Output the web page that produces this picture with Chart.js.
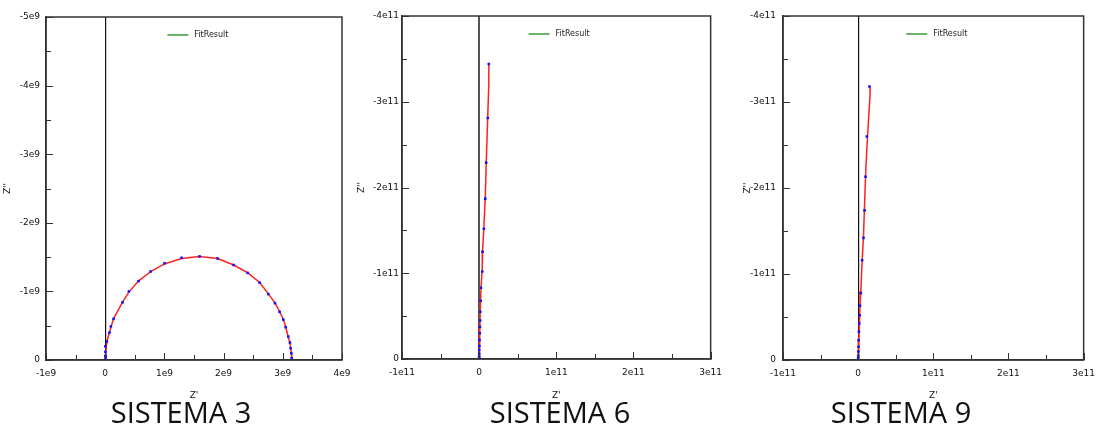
<!DOCTYPE html>
<html lang="es">
<head>
    <meta charset="UTF-8">
    <title>Nyquist - Sistemas 3, 6, 9</title>
    <style>
        body {
            margin: 0;
            background: #fff;
        }
        #wrap {
            position: relative;
            width: 1103px;
            height: 427px;
            overflow: hidden;
        }
        canvas {
            position: absolute;
            top: 0;
        }
        .caption {
            position: absolute;
            top: 397px;
            width: 200px;
            text-align: center;
            font-family: "Open Sans", sans-serif;
            font-size: 29px;
            line-height: 29px;
            color: #111;
        }
    </style>
    <script src="https://cdn.jsdelivr.net/npm/chart.js"></script>
</head>
<body>

<div id="wrap">
    <canvas id="c3" width="360" height="427" style="left:0px"></canvas>
    <canvas id="c6" width="375" height="427" style="left:355px"></canvas>
    <canvas id="c9" width="373" height="427" style="left:730px"></canvas>
    <div class="caption" style="left:81px">SISTEMA 3</div>
    <div class="caption" style="left:460px">SISTEMA 6</div>
    <div class="caption" style="left:801px">SISTEMA 9</div>
</div>

<script>
    // ---- data (Z' , Z'') ----
    // Sistema 3
    const s3DataX = [0, 0.001e9, 0.003e9, 0.002e9, 0.006e9, 0.028e9, 0.073e9, 0.096e9, 0.141e9, 0.293e9, 0.40e9, 0.563e9, 0.766e9, 1.003e9, 1.29e9, 1.594e9, 1.899e9, 2.169e9, 2.406e9, 2.608e9, 2.755e9, 2.868e9, 2.946e9, 3.008e9, 3.048e9, 3.093e9, 3.121e9, 3.132e9, 3.144e9, 3.149e9];
    const s3DataY = [-0.01e9, -0.06e9, -0.12e9, -0.2e9, -0.05e9, -0.27e9, -0.40e9, -0.49e9, -0.60e9, -0.84e9, -1.0e9, -1.15e9, -1.29e9, -1.41e9, -1.49e9, -1.51e9, -1.48e9, -1.385e9, -1.27e9, -1.127e9, -0.961e9, -0.829e9, -0.702e9, -0.59e9, -0.478e9, -0.341e9, -0.254e9, -0.171e9, -0.098e9, -0.024e9];
    const s3FitX = [0, 0.01e9, 0.03e9, 0.07e9, 0.14e9, 0.29e9, 0.40e9, 0.56e9, 0.77e9, 1.00e9, 1.29e9, 1.59e9, 1.90e9, 2.17e9, 2.41e9, 2.61e9, 2.76e9, 2.87e9, 2.95e9, 3.01e9, 3.05e9, 3.09e9, 3.12e9, 3.135e9, 3.145e9, 3.15e9, 3.152e9];
    const s3FitY = [0, -0.12e9, -0.27e9, -0.40e9, -0.60e9, -0.84e9, -0.99e9, -1.15e9, -1.29e9, -1.40e9, -1.48e9, -1.51e9, -1.48e9, -1.385e9, -1.27e9, -1.13e9, -0.96e9, -0.83e9, -0.70e9, -0.59e9, -0.48e9, -0.34e9, -0.25e9, -0.17e9, -0.10e9, -0.02e9, 0];

    // Sistema 6
    const s6DataX = [1.25e10, 1.12e10, 0.91e10, 0.79e10, 0.61e10, 0.44e10, 0.41e10, 0.23e10, 0.19e10, 0.15e10, 0.13e10, 0.10e10, 0.08e10, 0.05e10, 0.03e10, 0.01e10, 0.005e10, 0, 0];
    const s6DataY = [-3.44e11, -2.81e11, -2.29e11, -1.87e11, -1.52e11, -1.25e11, -1.02e11, -0.83e11, -0.68e11, -0.55e11, -0.45e11, -0.375e11, -0.30e11, -0.22e11, -0.15e11, -0.105e11, -0.06e11, -0.027e11, -0.01e11];
    const s6FitX = [1.25e10, 1.25e10, 1.12e10, 0.93e10, 0.80e10, 0.62e10, 0.45e10, 0.40e10, 0.25e10, 0.18e10, 0.14e10, 0.10e10, 0.06e10, 0.03e10, 0];
    const s6FitY = [-3.44e11, -3.20e11, -2.85e11, -2.33e11, -1.90e11, -1.55e11, -1.27e11, -1.05e11, -0.85e11, -0.68e11, -0.55e11, -0.40e11, -0.25e11, -0.12e11, 0];

    // Sistema 9
    const s9DataX = [1.5e10, 1.15e10, 0.98e10, 0.85e10, 0.71e10, 0.53e10, 0.36e10, 0.25e10, 0.20e10, 0.15e10, 0.10e10, 0.07e10, 0.05e10, 0.02e10, 0.01e10, 0, 0];
    const s9DataY = [-3.18e11, -2.60e11, -2.13e11, -1.74e11, -1.42e11, -1.16e11, -0.78e11, -0.63e11, -0.52e11, -0.425e11, -0.33e11, -0.23e11, -0.155e11, -0.10e11, -0.05e11, -0.02e11, 0];
    const s9FitX = [1.6e10, 1.58e10, 1.35e10, 1.15e10, 0.98e10, 0.85e10, 0.70e10, 0.53e10, 0.36e10, 0.25e10, 0.18e10, 0.10e10, 0.04e10, 0];
    const s9FitY = [-3.18e11, -3.08e11, -2.75e11, -2.45e11, -2.13e11, -1.80e11, -1.42e11, -1.16e11, -0.80e11, -0.63e11, -0.45e11, -0.25e11, -0.10e11, 0];

    // tick labels (major ticks only, minor ticks halfway between), from axis min upwards
    const x3Labels = ['-1e9', '0', '1e9', '2e9', '3e9', '4e9'];
    const y3Labels = ['-5e9', '-4e9', '-3e9', '-2e9', '-1e9', '0'];
    const x69Labels = ['-1e11', '0', '1e11', '2e11', '3e11'];
    const y69Labels = ['-4e11', '-3e11', '-2e11', '-1e11', '0'];

    const legendLabel = 'FitResult';
    const FONT = 'DejaVu Sans';

    function pts(xs, ys) {
        return xs.map((x, i) => ({x: x, y: ys[i]}));
    }

    // position of a tick counted in major steps from the axis min
    function majorIndex(v, min, step) {
        const k = (v - min) / (2 * step);
        return Math.abs(k - Math.round(k)) < 1e-6 ? Math.round(k) : -1;
    }

    // frame, inward tick marks and the in-plot legend
    const decor = {
        id: 'decor',
        afterDraw(chart, args, opts) {
            const ctx = chart.ctx;
            const a = chart.chartArea;
            ctx.save();
            ctx.strokeStyle = '#333';
            ctx.lineWidth = 1;
            ['x', 'y'].forEach(k => {
                const s = chart.scales[k];
                const step = s.options.ticks.stepSize;
                s.ticks.forEach(t => {
                    const len = majorIndex(t.value, s.min, step) >= 0 ? 7 : 5;
                    const p = Math.round(s.getPixelForValue(t.value)) + 0.5;
                    ctx.beginPath();
                    if (k === 'x') {
                        ctx.moveTo(p, a.bottom);
                        ctx.lineTo(p, a.bottom - len);
                    } else {
                        ctx.moveTo(a.left, p);
                        ctx.lineTo(a.left + len, p);
                    }
                    ctx.stroke();
                });
            });
            ctx.lineWidth = 1.5;
            ctx.strokeRect(a.left, a.top, a.right - a.left, a.bottom - a.top);

            // legend
            const lx = a.left + 0.41 * (a.right - a.left);
            const ly = a.top + 18;
            ctx.strokeStyle = '#1a8a1a';
            ctx.lineWidth = 1.3;
            ctx.beginPath();
            ctx.moveTo(lx, ly);
            ctx.lineTo(lx + 21, ly);
            ctx.stroke();
            ctx.fillStyle = '#222';
            ctx.font = '8px "' + FONT + '"';
            ctx.textBaseline = 'middle';
            ctx.fillText(legendLabel, lx + 27, ly);
            ctx.restore();
        }
    };

    function makeChart(id, p) {
        const ctx = document.getElementById(id).getContext('2d');
        return new Chart(ctx, {
            type: 'scatter',
            data: {
                datasets: [{
                    label: 'Data',
                    data: pts(p.dataX, p.dataY),
                    pointStyle: 'rect',
                    pointRadius: 1.8,
                    pointBorderWidth: 0,
                    backgroundColor: '#1010ff',
                    borderColor: '#1010ff',
                    showLine: false
                }, {
                    label: legendLabel,
                    data: pts(p.fitX, p.fitY),
                    showLine: true,
                    borderColor: '#ff2020',
                    borderWidth: 1.5,
                    pointRadius: 0,
                    tension: 0
                }]
            },
            options: {
                responsive: false,
                animation: false,
                layout: { padding: { top: p.padTop, right: p.padRight, left: 0, bottom: 0 } },
                plugins: {
                    legend: { display: false },
                    tooltip: { enabled: false }
                },
                scales: {
                    x: {
                        type: 'linear',
                        min: p.xMin, max: p.xMax,
                        afterFit: s => { s.height = p.xHeight; },
                        ticks: {
                            stepSize: p.xStep,
                            padding: 8,
                            maxRotation: 0,
                            autoSkip: false,
                            color: '#111',
                            font: { family: FONT, size: 9 },
                            callback: v => {
                                const k = majorIndex(v, p.xMin, p.xStep);
                                return k >= 0 ? p.xLabels[k] : '';
                            }
                        },
                        grid: {
                            drawTicks: false,
                            color: c => (c.tick && c.tick.value === 0 ? p.zeroColor : 'transparent'),
                            lineWidth: p.zeroWidth
                        },
                        border: { color: '#333', width: 1.5 },
                        title: {
                            display: true,
                            text: "Z'",
                            color: '#111',
                            font: { family: FONT, size: 9 },
                            padding: { top: 0, bottom: 26 }
                        }
                    },
                    y: {
                        type: 'linear',
                        reverse: true,
                        min: p.yMin, max: 0,
                        afterFit: s => { s.width = p.yWidth; },
                        ticks: {
                            stepSize: p.yStep,
                            padding: p.yPad,
                            autoSkip: false,
                            color: '#111',
                            font: { family: FONT, size: 9 },
                            callback: v => {
                                const k = majorIndex(v, p.yMin, p.yStep);
                                return k >= 0 ? p.yLabels[k] : '';
                            }
                        },
                        grid: { drawTicks: false, drawOnChartArea: false },
                        border: { color: '#333', width: 1.5 },
                        title: {
                            display: true,
                            text: "Z''",
                            color: '#111',
                            font: { family: FONT, size: 9 },
                            padding: { top: p.yTitlePad, bottom: 0 }
                        }
                    }
                }
            },
            plugins: [decor]
        });
    }

    makeChart('c3', {
        dataX: s3DataX, dataY: s3DataY, fitX: s3FitX, fitY: s3FitY,
        xMin: -1e9, xMax: 4e9, xStep: 0.5e9, yMin: -5e9, yStep: 0.5e9,
        xLabels: x3Labels, yLabels: y3Labels,
        padTop: 17, padRight: 18, xHeight: 67, yWidth: 46, yPad: 6, yTitlePad: 2,
        zeroColor: '#111', zeroWidth: 1.2
    });
    makeChart('c6', {
        dataX: s6DataX, dataY: s6DataY, fitX: s6FitX, fitY: s6FitY,
        xMin: -1e11, xMax: 3e11, xStep: 0.5e11, yMin: -4e11, yStep: 0.5e11,
        xLabels: x69Labels, yLabels: y69Labels,
        padTop: 16, padRight: 13, xHeight: 68, yWidth: 47, yPad: 3, yTitlePad: 1,
        zeroColor: '#555', zeroWidth: 2
    });
    makeChart('c9', {
        dataX: s9DataX, dataY: s9DataY, fitX: s9FitX, fitY: s9FitY,
        xMin: -1e11, xMax: 3e11, xStep: 0.5e11, yMin: -4e11, yStep: 0.5e11,
        xLabels: x69Labels, yLabels: y69Labels,
        padTop: 16, padRight: 19, xHeight: 67, yWidth: 53, yPad: 7, yTitlePad: 12,
        zeroColor: '#111', zeroWidth: 1.2
    });
</script>

</body>
</html>
